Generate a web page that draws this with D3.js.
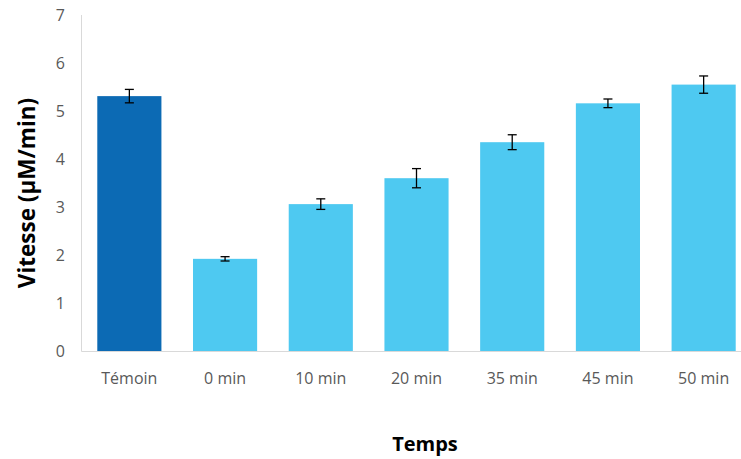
<!DOCTYPE html>
<html><head><meta charset="utf-8">
<script src="https://cdn.jsdelivr.net/npm/d3@7"></script>
<style>body{margin:0;background:#fff}svg{display:block}</style>
</head><body>
<svg id="c" width="741" height="459"></svg>
<script>
const categories = ["Témoin","0 min","10 min","20 min","35 min","45 min","50 min"];
const values = [5.31, 1.92, 3.06, 3.60, 4.35, 5.16, 5.55];
const errors = [0.14, 0.045, 0.11, 0.20, 0.155, 0.09, 0.18];
const yTicks = [0,1,2,3,4,5,6,7];
const colors = ["#0c6ab4","#4ec9f1","#4ec9f1","#4ec9f1","#4ec9f1","#4ec9f1","#4ec9f1"];

const svg = d3.select("#c");
const font = "'Open Sans', sans-serif";
const x = d3.scaleBand().domain(categories).range([81.5, 751.5]).paddingInner(0.33).paddingOuter(0.165);
const y = d3.scaleLinear().domain([0,7]).range([351,15]);

// axes lines
svg.append("line").attr("x1",81.5).attr("x2",741).attr("y1",351.5).attr("y2",351.5).attr("stroke","#d9d9d9");
svg.append("line").attr("x1",81.5).attr("x2",81.5).attr("y1",15).attr("y2",351.5).attr("stroke","#d9d9d9");

// y ticks
svg.append("g").selectAll("text").data(yTicks).join("text")
  .attr("x",65).attr("y",d=>y(d)).attr("dy","0.35em").attr("text-anchor","end")
  .attr("font-family",font).attr("font-size",16).attr("fill","#595959").text(d=>d);

// bars
svg.append("g").selectAll("rect").data(values).join("rect")
  .attr("x",(d,i)=>x(categories[i])).attr("width",x.bandwidth())
  .attr("y",d=>y(d)).attr("height",d=>y(0)-y(d)).attr("fill",(d,i)=>colors[i]);

// error bars
const eg = svg.append("g").attr("stroke","#000").attr("stroke-width",1.3);
values.forEach((v,i)=>{
  const cx = x(categories[i]) + x.bandwidth()/2;
  const t = y(v+errors[i]), b = y(v-errors[i]);
  eg.append("line").attr("x1",cx).attr("x2",cx).attr("y1",t).attr("y2",b);
  eg.append("line").attr("x1",cx-4.5).attr("x2",cx+4.5).attr("y1",t).attr("y2",t);
  eg.append("line").attr("x1",cx-4.5).attr("x2",cx+4.5).attr("y1",b).attr("y2",b);
});

// x labels
svg.append("g").selectAll("text").data(categories).join("text")
  .attr("x",d=>x(d)+x.bandwidth()/2).attr("y",384).attr("text-anchor","middle")
  .attr("font-family",font).attr("font-size",16).attr("fill","#595959").text(d=>d);

// titles
svg.append("text").attr("x",425).attr("y",451).attr("text-anchor","middle")
  .attr("font-family",font).attr("font-weight","bold").attr("font-size",20).attr("fill","#000").text("Temps");
svg.append("text").attr("transform","translate(35,193) rotate(-90)").attr("text-anchor","middle")
  .attr("font-family",font).attr("font-weight","bold").attr("font-size",22.5).attr("fill","#000").text("Vitesse (µM/min)");
</script>
</body></html>
